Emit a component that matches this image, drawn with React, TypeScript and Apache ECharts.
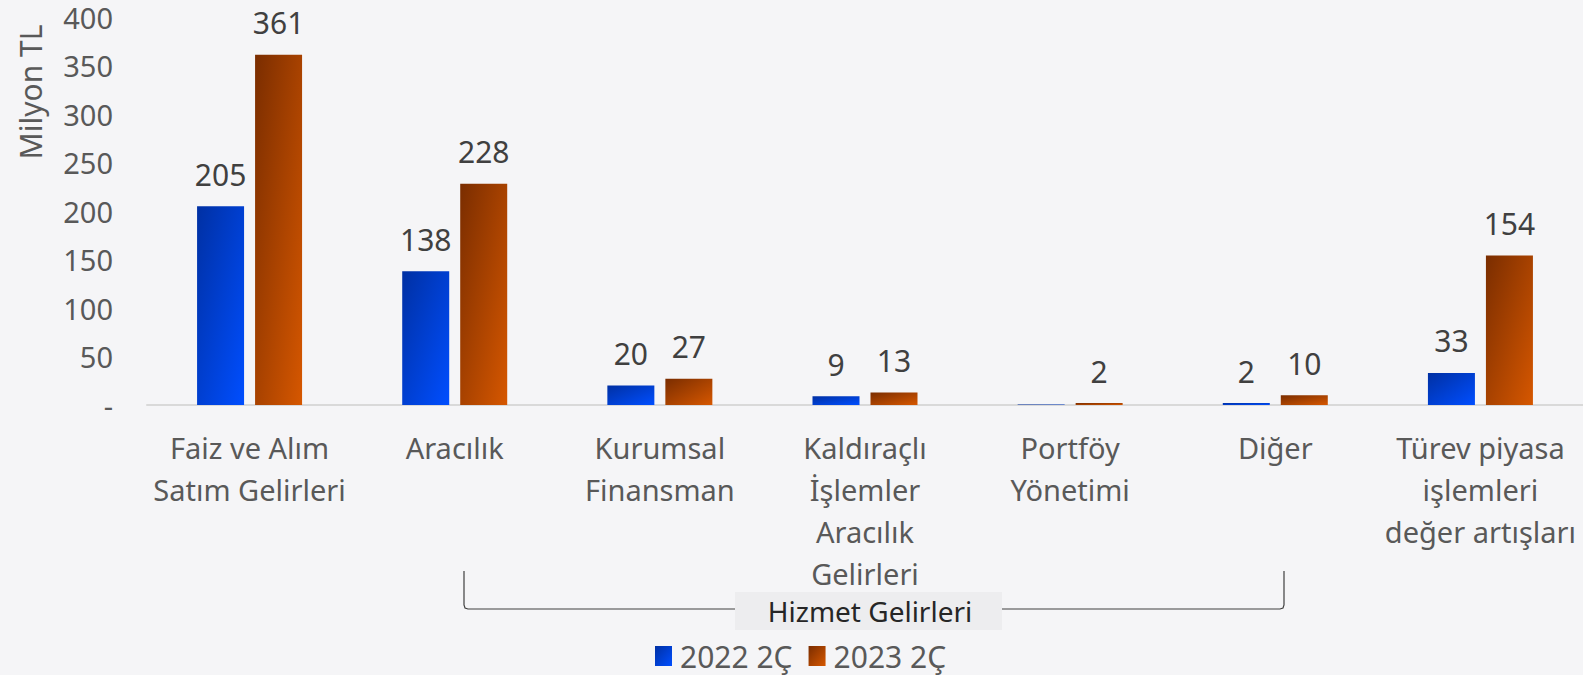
import React, { useEffect, useRef } from "react";
import * as echarts from "echarts";

const categories = [
  "Faiz ve Alım\nSatım Gelirleri",
  "Aracılık",
  "Kurumsal\nFinansman",
  "Kaldıraçlı\nİşlemler\nAracılık\nGelirleri",
  "Portföy\nYönetimi",
  "Diğer",
  "Türev piyasa\nişlemleri\ndeğer artışları",
];
const series2022 = [205, 138, 20, 9, 0.4, 2, 33];
const series2023 = [361, 228, 27, 13, 2, 10, 154];
const seriesNames = ["2022 2Ç", "2023 2Ç"];
const yTicks = { min: 0, max: 400, interval: 50 };

const FONT = "'Noto Sans', 'Open Sans', sans-serif";

const blueGrad = () =>
  new echarts.graphic.LinearGradient(0, 0, 1, 1, [
    { offset: 0, color: "#0030A3" },
    { offset: 1, color: "#004EFF" },
  ]);
const orangeGrad = () =>
  new echarts.graphic.LinearGradient(0, 0, 1, 1, [
    { offset: 0, color: "#7A2D00" },
    { offset: 1, color: "#D65700" },
  ]);

const toData = (arr: number[]) =>
  arr.map((v) => (v < 1 ? { value: v, label: { show: false } } : v));

export default function App() {
  const ref = useRef<HTMLDivElement>(null);
  useEffect(() => {
    if (!ref.current) return;
    const chart = echarts.init(ref.current, undefined, { renderer: "svg" });
    const labelCommon = {
      show: true,
      position: "top" as const,
      distance: 17,
      color: "#404040",
      fontSize: 30,
      fontFamily: FONT,
    };
    const lineStyle = { stroke: "#404040", lineWidth: 1.2, fill: "none" };
    chart.setOption({
      animation: false,
      backgroundColor: "#F5F5F7",
      textStyle: { fontFamily: FONT },
      grid: { left: 147, right: 0, top: 17, bottom: 270, containLabel: false },
      legend: {
        left: 650,
        top: 636,
        itemWidth: 17,
        itemHeight: 20,
        itemGap: 16,
        icon: "rect",
        textStyle: {
          fontSize: 30,
          color: "#595959",
          fontFamily: FONT,
          lineHeight: 30,
          padding: [0, 0, 0, 3],
        },
        data: seriesNames,
      },
      xAxis: {
        type: "category",
        data: categories,
        axisLine: { show: true, lineStyle: { color: "#D9D9D9", width: 2 } },
        axisTick: { show: false },
        axisLabel: {
          interval: 0,
          margin: 21,
          fontSize: 29,
          lineHeight: 42,
          color: "#595959",
          fontFamily: FONT,
        },
      },
      yAxis: {
        type: "value",
        min: yTicks.min,
        max: yTicks.max,
        interval: yTicks.interval,
        axisLine: { show: false },
        axisTick: { show: false },
        splitLine: { show: false },
        axisLabel: {
          margin: 34,
          fontSize: 29,
          lineHeight: 24,
          color: "#595959",
          fontFamily: FONT,
          formatter: (v: number) => (v === 0 ? "-" : String(v)),
        },
      },
      series: [
        {
          name: seriesNames[0],
          type: "bar",
          data: toData(series2022),
          barWidth: 47,
          barGap: "23.4%",
          itemStyle: { color: blueGrad() },
          label: labelCommon,
        },
        {
          name: seriesNames[1],
          type: "bar",
          data: toData(series2023),
          barWidth: 47,
          barGap: "23.4%",
          itemStyle: { color: orangeGrad() },
          label: labelCommon,
        },
      ],
      graphic: [
        {
          type: "text",
          x: 30,
          y: 92,
          rotation: Math.PI / 2,
          style: {
            text: "Milyon TL",
            fontSize: 30,
            fill: "#595959",
            fontFamily: FONT,
            align: "center",
            verticalAlign: "middle",
          },
        },
        {
          type: "polyline",
          shape: {
            points: [
              [464, 571],
              [464, 605],
              [465, 608],
              [468, 609],
              [735, 609],
            ],
          },
          style: lineStyle,
        },
        {
          type: "polyline",
          shape: {
            points: [
              [1002, 609],
              [1280, 609],
              [1283, 608],
              [1284, 605],
              [1284, 571],
            ],
          },
          style: lineStyle,
        },
        {
          type: "rect",
          shape: { x: 735, y: 592, width: 267, height: 38 },
          style: { fill: "#EDEDEF" },
        },
        {
          type: "text",
          x: 870,
          y: 611,
          style: {
            text: "Hizmet Gelirleri",
            fontSize: 28,
            fill: "#262626",
            fontFamily: FONT,
            align: "center",
            verticalAlign: "middle",
          },
        },
      ],
    });
    return () => chart.dispose();
  }, []);
  return (
    <div
      ref={ref}
      style={{ position: "fixed", left: 0, top: 0, width: 1583, height: 675 }}
    />
  );
}
